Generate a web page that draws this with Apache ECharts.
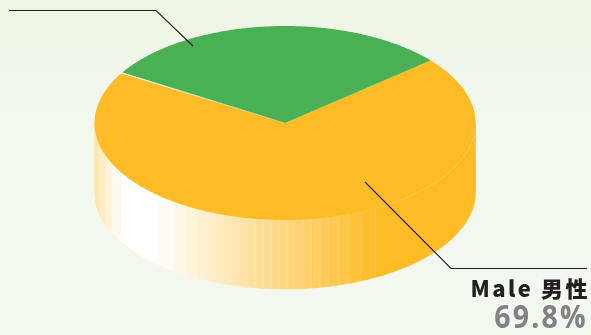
<!DOCTYPE html>
<html>
<head>
<meta charset="utf-8">
<style>html,body{margin:0;padding:0;background:#f2f8ee}#chart{width:591px;height:335px}</style>
<script src="https://cdn.jsdelivr.net/npm/echarts@6/dist/echarts.min.js"></script>
</head>
<body>
<div id="chart"></div>
<script>
// Share of respondents by gender; the green slice carries no caption.
var sliceLabels = ['Male 男性', ''];
var sliceValues = [69.8, 30.2];
var sliceColors = ['#fdbb26', '#49b054'];

// Pie disc seen from above, in pixels.
var CX = 285, CY = 123, RX = 190.5, RY = 97, DEPTH = 69;
var GREEN_END_DEG = 40.2; // where the green slice meets the orange one on the right

// Facets of the shaded rim, given as horizontal offsets from the disc centre.
var rimEdges = [-192,-188,-185,-182,-179,-173,-163,-127,-112,-100,-88,-78,-70,-62,-54,-46,-38,-30,-22,-14,-6,2,9,18,26,35,44,54,63,76,90,192];

function ell(deg, dy) {
  var a = deg * Math.PI / 180;
  return [CX + RX * Math.cos(a), CY - RY * Math.sin(a) + (dy || 0)];
}
function offsetToDeg(dx) {
  // lower half of the ellipse, clockwise-negative degrees
  var c = Math.max(-1, Math.min(1, dx / RX));
  return -Math.acos(c) * 180 / Math.PI;
}
function arcPoints(from, to, dy) {
  var n = Math.max(2, Math.ceil(Math.abs(to - from) * 2)), pts = [];
  for (var i = 0; i <= n; i++) pts.push(ell(from + (to - from) * i / n, dy));
  return pts;
}
function mix(t) {
  // white to slice orange
  var c = [253, 187, 38];
  var r = [255, 255, 255].map(function (w, i) { return Math.round(w + (c[i] - w) * t); });
  return 'rgb(' + r.join(',') + ')';
}
function rimShade(dx) {
  if (dx < -163) return Math.min(0.42, (-163 - dx) / 29 * 0.42);
  if (dx < -127) return 0;
  return Math.min(1, Math.pow((dx + 127) / 218, 0.95));
}

function renderSlice(params, api) {
  var i = params.dataIndex;
  var total = sliceValues.reduce(function (a, b) { return a + b; }, 0);
  var sweep = api.value(0) / total * 360;
  var children = [];
  var start, end;
  if (i === 0) {
    // the orange slice runs clockwise from the green slice's right edge
    end = GREEN_END_DEG; start = end - sweep;
    // rim first, so the disc covers its upper edge
    for (var k = 0; k < rimEdges.length - 1; k++) {
      var a = offsetToDeg(rimEdges[k]), b = offsetToDeg(rimEdges[k + 1]);
      var top = arcPoints(a, b, 0), bot = arcPoints(b, a, DEPTH);
      var fill = mix(rimShade((rimEdges[k] + rimEdges[k + 1]) / 2));
      children.push({ type: 'polygon', shape: { points: top.concat(bot) },
        style: { fill: fill, stroke: fill, lineWidth: 0.6 }, silent: true });
    }
    for (var m = 7; m < rimEdges.length - 1; m++) {
      var d = offsetToDeg(rimEdges[m]);
      var p = ell(d, 0), q = ell(d, DEPTH);
      children.push({ type: 'line', shape: { x1: p[0], y1: p[1], x2: q[0], y2: q[1] },
        style: { stroke: 'rgba(255,255,255,0.4)', lineWidth: 0.6 }, silent: true });
    }
  } else {
    start = GREEN_END_DEG; end = start + sweep;
  }
  var pts = [[CX, CY]].concat(arcPoints(start, end, 0));
  children.push({ type: 'polygon', shape: { points: pts },
    style: { fill: api.style().fill }, silent: true });
  if (i === 0) {
    // pale seam between disc and rim on the right
    children.push({ type: 'polyline', shape: { points: arcPoints(offsetToDeg(90), -4, 0) },
      style: { stroke: 'rgba(255,228,160,0.6)', fill: null, lineWidth: 0.5 }, silent: true });
  } else {
    // pale hairline along the green slice's far edge
    var e = ell(end, 0);
    children.push({ type: 'line', shape: { x1: CX, y1: CY, x2: e[0], y2: e[1] },
      style: { stroke: { type: 'linear', x: 1, y: 1, x2: 0, y2: 0, colorStops: [
        { offset: 0, color: 'rgba(255,255,255,0.1)' }, { offset: 1, color: 'rgba(255,255,255,0.95)' }] }, lineWidth: 1.2 }, silent: true });
  }
  return { type: 'group', children: children };
}

var chart = echarts.init(document.getElementById('chart'), null, { renderer: 'canvas' });
var FONT = '"Noto Sans CJK SC","Noto Sans",sans-serif';
chart.setOption({
  animation: false,
  backgroundColor: { type: 'linear', x: 0, y: 0, x2: 0, y2: 1, colorStops: [
    { offset: 0, color: '#eef5e6' }, { offset: 0.4, color: '#f2f8ee' }, { offset: 1, color: '#f2f8ee' }] },
  series: [{
    type: 'custom',
    coordinateSystem: 'none',
    renderItem: renderSlice,
    data: sliceValues.map(function (v, i) {
      return { value: [v], name: sliceLabels[i], itemStyle: { color: sliceColors[i] } };
    })
  }],
  graphic: [
    { type: 'polyline', silent: true, z: 10, shape: { points: [[9, 10.5], [156, 10.5], [193, 46]] },
      style: { stroke: '#231f20', fill: null, lineWidth: 1.1 } },
    { type: 'polyline', silent: true, z: 10, shape: { points: [[365, 182], [451, 268.5], [587, 268.5]] },
      style: { stroke: '#231f20', fill: null, lineWidth: 1.1 } },
    { type: 'text', silent: true, z: 10, x: 590, y: 289, style: { text: sliceLabels[0], align: 'right', verticalAlign: 'middle',
      fill: '#231f20', font: '900 22px ' + FONT } },
    { type: 'text', silent: true, z: 10, x: 588, y: 319, scaleX: 0.89, style: { text: sliceValues[0].toFixed(1) + '%', align: 'right', verticalAlign: 'middle',
      fill: '#808285', font: 'bold 32px "Open Sans",' + FONT } }
  ]
});

// The captions are set with wide tracking.
var zr = chart.getZr();
zr.refreshImmediately();
var canvas = document.querySelector('#chart canvas');
if (canvas) {
  canvas.getContext('2d').letterSpacing = '2.5px';
  zr.refreshImmediately();
  zr.painter.refresh && zr.painter.refresh(true);
}
</script>
</body>
</html>
